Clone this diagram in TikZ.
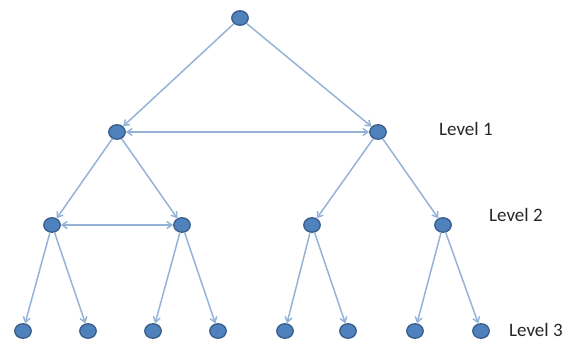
\documentclass[tikz,border=0pt]{standalone}
\usepackage{fontspec}
\setmainfont{Carlito}
\usetikzlibrary{arrows.meta,shapes.geometric}
\definecolor{nodefill}{HTML}{4F81BD}
\definecolor{nodedraw}{HTML}{385D8A}
\definecolor{edgecol}{HTML}{95B3D7}
\begin{document}
\begin{tikzpicture}[x=1pt,y=-1pt,
  vertex/.style={ellipse,draw=nodedraw,fill=nodefill,line width=1.3pt,minimum width=16.5pt,minimum height=14.5pt,inner sep=0pt},
  edge/.style={draw=edgecol,line width=1.5pt,-{Straight Barb[length=5pt,width=7pt]}},
  dedge/.style={draw=edgecol,line width=1.5pt,{Straight Barb[length=5pt,width=7pt]}-{Straight Barb[length=5pt,width=7pt]}},
  lvl/.style={font=\fontsize{19}{22}\selectfont,text=black!85,anchor=west,inner sep=0pt}]
\useasboundingbox (0,0) rectangle (579,341);
\node[vertex] (r) at (240,18) {};
\node[vertex] (a) at (117,132) {};
\node[vertex] (b) at (378,132) {};
\node[vertex] (a1) at (52,225) {};
\node[vertex] (a2) at (182,225) {};
\node[vertex] (b1) at (312,225) {};
\node[vertex] (b2) at (443,225) {};
\node[vertex] (c1) at (23,331) {};
\node[vertex] (c2) at (88,331) {};
\node[vertex] (c3) at (153,331) {};
\node[vertex] (c4) at (218,331) {};
\node[vertex] (c5) at (285,331) {};
\node[vertex] (c6) at (348,331) {};
\node[vertex] (c7) at (415,331) {};
\node[vertex] (c8) at (481,331) {};
\node[lvl] (l1) at (439,129) {Level 1};
\node[lvl] (l2) at (489,215) {Level 2};
\node[lvl] (l3) at (509,330) {Level 3};
\draw[edge] (r) -- (a);
\draw[edge] (r) -- (b);
\draw[edge] (a) -- (a1);
\draw[edge] (a) -- (a2);
\draw[edge] (b) -- (b1);
\draw[edge] (b) -- (b2);
\draw[edge] (a1) -- (c1);
\draw[edge] (a1) -- (c2);
\draw[edge] (a2) -- (c3);
\draw[edge] (a2) -- (c4);
\draw[edge] (b1) -- (c5);
\draw[edge] (b1) -- (c6);
\draw[edge] (b2) -- (c7);
\draw[edge] (b2) -- (c8);
\draw[dedge] (a) -- (b);
\draw[dedge] (a1) -- (a2);
\end{tikzpicture}
\end{document}
